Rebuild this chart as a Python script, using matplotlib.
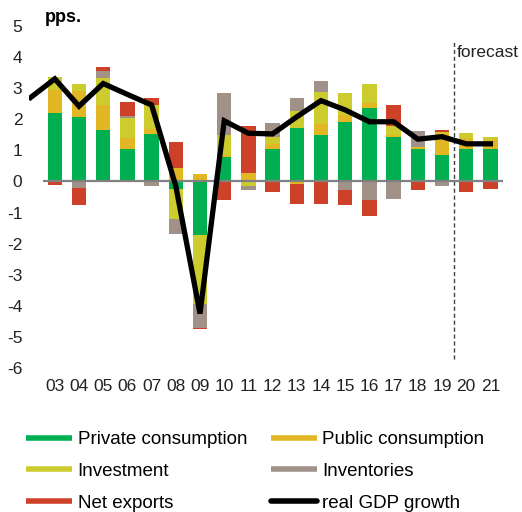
import matplotlib
matplotlib.use("Agg")
import matplotlib.pyplot as plt
from matplotlib.lines import Line2D
import numpy as np

plt.rcParams['font.family'] = ['Liberation Sans', 'DejaVu Sans']

years = ["03", "04", "05", "06", "07", "08", "09", "10", "11", "12",
         "13", "14", "15", "16", "17", "18", "19", "20", "21"]
private_cons = [2.19, 2.08, 1.67, 1.04, 1.52, -0.23, -1.73, 0.80, 0.00, 1.04,
                1.71, 1.49, 1.90, 2.35, 1.44, 1.04, 0.85, 1.04, 1.04]
public_cons = [0.75, 0.82, 0.79, 0.37, 0.18, 0.43, 0.24, 0.05, 0.27, 0.16,
               -0.08, 0.36, 0.24, 0.18, 0.05, 0.06, 0.70, 0.36, 0.30]
investment = [0.43, 0.25, 0.87, 0.62, 0.75, -0.97, -2.22, 0.65, -0.16, 0.24,
              0.55, 1.03, 0.71, 0.62, 0.30, 0.00, 0.05, 0.15, 0.10]
inventories = [0.00, -0.20, 0.22, 0.07, -0.15, -0.50, -0.75, 1.33, -0.10, 0.43,
               0.41, 0.36, -0.27, -0.61, -0.56, 0.53, -0.16, 0.00, 0.00]
net_exports = [-0.10, -0.57, 0.14, 0.46, 0.22, 0.85, -0.05, -0.59, 1.51, -0.35,
               -0.63, -0.72, -0.48, -0.51, 0.67, -0.27, 0.05, -0.34, -0.25]
# real GDP growth, first value is 2002 (clipped at the left edge)
gdp_years = ["02"] + years
gdp_growth = [2.70, 3.30, 2.42, 3.15, 2.80, 2.46, -0.15, -4.25, 1.95, 1.55, 1.53,
              2.08, 2.60, 2.30, 1.92, 1.92, 1.36, 1.44, 1.21, 1.21]

series = [
    ("Private consumption", private_cons, "#00B050"),
    ("Public consumption", public_cons, "#E1B824"),
    ("Investment", investment, "#CCCC2E"),
    ("Inventories", inventories, "#A09189"),
    ("Net exports", net_exports, "#CC4127"),
]

W, H = 522, 512
fig = plt.figure(figsize=(W / 100, H / 100), dpi=100)
ax = fig.add_axes([29.4 / W, (H - 368) / H, (502.5 - 29.4) / W, (368 - 26) / H])

x = np.arange(len(years))
pos_base = np.zeros(len(years))
neg_base = np.zeros(len(years))
for name, vals, col in series:
    v = np.array(vals)
    pv = np.where(v > 0, v, 0)
    nv = np.where(v < 0, v, 0)
    ax.bar(x, pv, 0.6, bottom=pos_base, color=col, linewidth=0, zorder=2)
    ax.bar(x, nv, 0.6, bottom=neg_base, color=col, linewidth=0, zorder=2)
    pos_base += pv
    neg_base += nv

ax.hlines(0, -0.5, 18.6, color="#808080", lw=1.6, zorder=3)

gx = np.arange(-1, len(years))
ax.plot(gx, gdp_growth, color="black", lw=3.8, solid_joinstyle="miter", zorder=4)

ax.vlines(16.5, -5.7, 4.55, color="#404040", lw=1.0, linestyles=(0, (3, 2)), zorder=1)
ax.text(16.62, 4.16, "forecast", fontsize=12.5, va="center", ha="left", color="#222222")

ax.set_xlim(-1.05, 18.5)
ax.set_ylim(-6, 5)
ax.set_yticks(range(-6, 6))
ax.set_yticklabels([str(v) for v in range(-6, 6)], fontsize=12.5)
ax.set_xticks(x)
ax.set_xticklabels(years, fontsize=12.5)
ax.tick_params(axis="both", length=0, colors="#222222")
ax.tick_params(axis="x", pad=8)
ax.tick_params(axis="y", pad=5)
for s in ax.spines.values():
    s.set_visible(False)

fig.text(45 / W, 1 - 22 / H, "pps.", fontsize=13, fontweight="bold", va="baseline", ha="left")

handles = []
labels = []
for name, vals, col in [series[0], series[2], series[4], series[1], series[3]]:
    handles.append(Line2D([], [], color=col, lw=4, solid_capstyle="butt"))
    labels.append(name)
handles.append(Line2D([], [], color="black", lw=4, solid_capstyle="round"))
labels.append("real GDP growth")

fig.legend(handles, labels, loc="upper left", bbox_to_anchor=(26 / W, 1 - 431 / H),
           ncol=2, frameon=False, fontsize=13.5, handlelength=2.45, handletextpad=0.3,
           columnspacing=1.27, labelspacing=0.78, borderpad=0, borderaxespad=0)

fig.savefig("out.png", dpi=100)
